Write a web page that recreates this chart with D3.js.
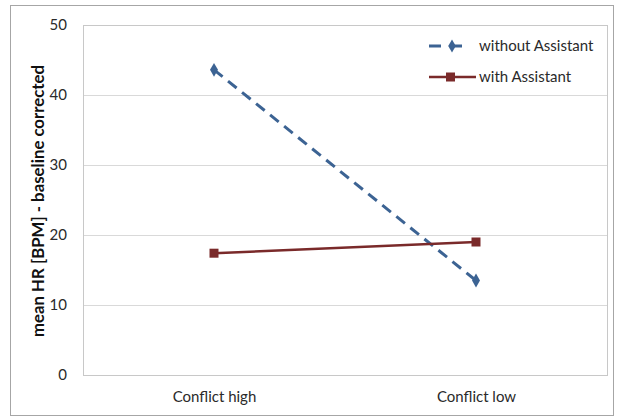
<!DOCTYPE html>
<html>
<head>
<meta charset="utf-8">
<script src="https://cdn.jsdelivr.net/npm/d3@7"></script>
<style>
  html, body { margin: 0; padding: 0; background: #fff; }
  svg text { font-family: Lato, "Open Sans", sans-serif; }
</style>
</head>
<body>
<svg id="chart" width="623" height="419"></svg>
<script>
// Heart-rate change per conflict level, with and without the assistant
const categories = ["Conflict high", "Conflict low"];
const withoutAssistant = [43.6, 13.5];
const withAssistant = [17.4, 19.0];
const yTicks = [0, 10, 20, 30, 40, 50];
const seriesNames = ["without Assistant", "with Assistant"];

const svg = d3.select("#chart");
const plot = { left: 83, right: 607, top: 25, bottom: 375 };

// Outer chart frame
svg.append("rect")
  .attr("x", 10.5).attr("y", 5.5)
  .attr("width", 603).attr("height", 410)
  .attr("fill", "#fff").attr("stroke", "#a6a6a6").attr("stroke-width", 1);

const x = d3.scalePoint().domain(categories)
  .range([plot.left, plot.right]).padding(0.5);
const y = d3.scaleLinear().domain([0, 50]).range([plot.bottom, plot.top]);

// Gridlines
svg.append("g").selectAll("line").data(yTicks.filter(d => d > 0)).join("line")
  .attr("x1", plot.left).attr("x2", plot.right)
  .attr("y1", d => Math.round(y(d)) + 0.5).attr("y2", d => Math.round(y(d)) + 0.5)
  .attr("stroke", "#d9d9d9").attr("stroke-width", 1);

// Plot-area border
svg.append("rect")
  .attr("x", plot.left + 0.5).attr("y", plot.top + 0.5)
  .attr("width", plot.right - plot.left).attr("height", plot.bottom - plot.top)
  .attr("fill", "none").attr("stroke", "#c8c8c8");

// Y axis
const yAxis = svg.append("g")
  .attr("transform", `translate(${plot.left},0)`)
  .call(d3.axisLeft(y).tickValues(yTicks).tickSize(0).tickPadding(16));
yAxis.select(".domain").remove();
yAxis.selectAll("text").attr("font-size", 15).attr("fill", "#2a2a2a");

// X axis
const xAxis = svg.append("g")
  .attr("transform", `translate(0,${plot.bottom})`)
  .call(d3.axisBottom(x).tickSize(0).tickPadding(16));
xAxis.select(".domain").remove();
xAxis.selectAll("text").attr("font-size", 15).attr("fill", "#2a2a2a");

// Y axis title
svg.append("text")
  .attr("transform", `translate(44,${(plot.top + plot.bottom) / 2 + 1}) rotate(-90)`)
  .attr("text-anchor", "middle")
  .attr("font-size", 16.8).attr("font-weight", "bold").attr("fill", "#111")
  .text("mean HR [BPM] - baseline corrected");

const line = d3.line().x((d, i) => x(categories[i])).y(d => y(d));
const blue = "#3c6393", red = "#7a2a2a";

// Series without assistant: dashed blue with diamond markers
svg.append("path").datum(withoutAssistant)
  .attr("d", line).attr("fill", "none")
  .attr("stroke", blue).attr("stroke-width", 3).attr("stroke-dasharray", "11,7");
svg.append("g").selectAll("path").data(withoutAssistant).join("path")
  .attr("d", d3.symbol(d3.symbolDiamond, 55))
  .attr("transform", (d, i) => `translate(${x(categories[i])},${y(d)})`)
  .attr("fill", blue);

// Series with assistant: solid dark red with square markers
svg.append("path").datum(withAssistant)
  .attr("d", line).attr("fill", "none")
  .attr("stroke", red).attr("stroke-width", 2.5);
svg.append("g").selectAll("rect").data(withAssistant).join("rect")
  .attr("x", (d, i) => x(categories[i]) - 4.5)
  .attr("y", d => y(d) - 4.5)
  .attr("width", 9).attr("height", 9)
  .attr("fill", red);

// Legend
const legend = svg.append("g");
const legendRows = [
  { name: seriesNames[0], color: blue, dash: "12,9", y: 46, marker: "diamond" },
  { name: seriesNames[1], color: red, dash: null, y: 77, marker: "square" }
];
legendRows.forEach(r => {
  legend.append("line")
    .attr("x1", 429).attr("x2", r.dash ? 463 : 476).attr("y1", r.y).attr("y2", r.y)
    .attr("stroke", r.color).attr("stroke-width", r.dash ? 3 : 2.5)
    .attr("stroke-dasharray", r.dash);
  if (r.marker === "diamond") {
    legend.append("path").attr("d", d3.symbol(d3.symbolDiamond, 50))
      .attr("transform", `translate(452,${r.y})`).attr("fill", r.color);
  } else {
    legend.append("rect").attr("x", 446).attr("y", r.y - 4.5)
      .attr("width", 9).attr("height", 9).attr("fill", r.color);
  }
  legend.append("text")
    .attr("x", 479).attr("y", r.y).attr("dy", "0.35em")
    .attr("font-size", 15).attr("fill", "#2a2a2a").text(r.name);
});
</script>
</body>
</html>
